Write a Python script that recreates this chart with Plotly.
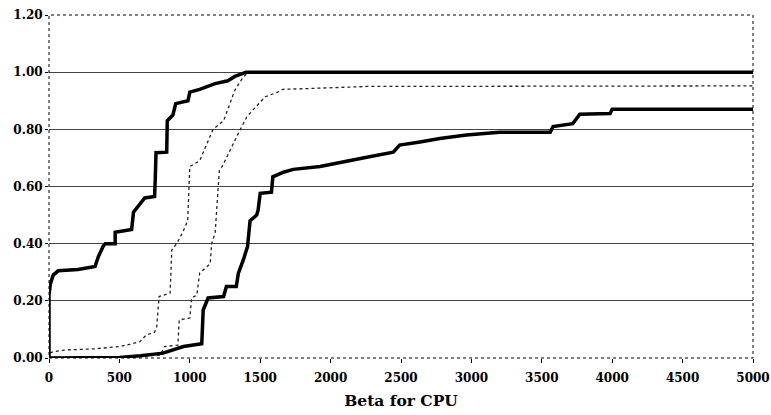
import plotly.graph_objects as go

# Curve A (thick, leftmost)
a_x = [0, 0, 10, 30, 65, 206, 327, 350, 384, 400, 470, 470, 587, 600, 680, 750, 755, 760, 836, 840, 880, 900, 987, 1000, 1070, 1180, 1270, 1320, 1400, 5000]
a_y = [0, 0.22, 0.26, 0.29, 0.305, 0.31, 0.32, 0.354, 0.39, 0.40, 0.40, 0.44, 0.45, 0.51, 0.56, 0.565, 0.63, 0.718, 0.72, 0.83, 0.85, 0.89, 0.90, 0.93, 0.94, 0.96, 0.97, 0.985, 1.0, 1.0]

# Curve B (thin, second)
b_x = [0, 0, 30, 114, 320, 504, 590, 646, 690, 750, 765, 782, 860, 872, 907, 950, 985, 1000, 1070, 1130, 1165, 1240, 1285, 1320, 1380, 1420, 5000]
b_y = [0, 0.017, 0.022, 0.028, 0.032, 0.04, 0.05, 0.057, 0.08, 0.09, 0.11, 0.215, 0.227, 0.378, 0.40, 0.44, 0.48, 0.67, 0.69, 0.76, 0.80, 0.83, 0.89, 0.937, 0.984, 1.0, 1.0]

# Curve C (thin, third)
c_x = [0, 400, 600, 790, 820, 915, 925, 1000, 1013, 1050, 1070, 1145, 1155, 1180, 1190, 1210, 1230, 1285, 1345, 1405, 1475, 1535, 1625, 1660, 1800, 2017, 2260, 5000]
c_y = [0, 0.002, 0.005, 0.01, 0.04, 0.045, 0.133, 0.14, 0.21, 0.22, 0.297, 0.33, 0.40, 0.437, 0.52, 0.657, 0.67, 0.727, 0.786, 0.844, 0.88, 0.914, 0.93, 0.94, 0.942, 0.945, 0.95, 0.952]

# Curve D (thick, rightmost)
d_x = [0, 500, 650, 810, 955, 1085, 1095, 1130, 1240, 1260, 1330, 1345, 1380, 1410, 1428, 1475, 1485, 1500, 1580, 1590, 1665, 1735, 1925, 2020, 2115, 2230, 2445, 2490, 2635, 2775, 2965, 3200, 3560, 3580, 3720, 3770, 3985, 4000, 5000]
d_y = [0, 0.002, 0.008, 0.017, 0.04, 0.05, 0.168, 0.21, 0.215, 0.25, 0.25, 0.297, 0.343, 0.39, 0.48, 0.50, 0.517, 0.576, 0.58, 0.634, 0.65, 0.66, 0.67, 0.68, 0.69, 0.70, 0.72, 0.745, 0.756, 0.768, 0.78, 0.79, 0.79, 0.81, 0.82, 0.853, 0.855, 0.87, 0.87]

x_ticks = [0, 500, 1000, 1500, 2000, 2500, 3000, 3500, 4000, 4500, 5000]
y_ticks = [0.0, 0.2, 0.4, 0.6, 0.8, 1.0, 1.2]
y_labels = ["0.00", "0.20", "0.40", "0.60", "0.80", "1.00", "1.20"]

font_family = "DejaVu Serif"

fig = go.Figure()
fig.add_trace(go.Scatter(x=c_x, y=c_y, mode="lines", line=dict(color="#222", width=1.3, dash="dot")))
fig.add_trace(go.Scatter(x=b_x, y=b_y, mode="lines", line=dict(color="#222", width=1.3, dash="dot")))
fig.add_trace(go.Scatter(x=d_x, y=d_y, mode="lines", line=dict(color="black", width=3.5)))
fig.add_trace(go.Scatter(x=a_x, y=a_y, mode="lines", line=dict(color="black", width=3.5)))

fig.update_layout(
    width=771, height=415,
    margin=dict(l=49, r=18, t=15, b=57),
    paper_bgcolor="white", plot_bgcolor="white",
    showlegend=False,
    font=dict(family=font_family, size=12, color="black"),
    xaxis=dict(
        range=[0, 5000], tickvals=x_ticks, ticktext=[str(v) for v in x_ticks],
        showgrid=False, zeroline=False, ticks="outside", ticklen=4, tickcolor="black",
        showline=False, automargin=False, ticklabelstandoff=5,
        tickfont=dict(family=font_family, size=12, weight="bold"),
        title=dict(text="<b>Beta for CPU</b>", font=dict(family=font_family, size=15.5), standoff=10),
    ),
    yaxis=dict(
        range=[0, 1.2], tickvals=y_ticks, ticktext=y_labels,
        showgrid=True, gridcolor="#444", gridwidth=1, zeroline=False,
        ticks="outside", ticklen=3, tickcolor="black", showline=False, automargin=False,
        tickfont=dict(family=font_family, size=12, weight="bold"),
    ),
    shapes=[dict(type="rect", xref="paper", yref="paper", x0=0, y0=0, x1=1, y1=1,
                 line=dict(color="black", width=1, dash="dot"), layer="above")],
)

fig.write_html("out.html")
